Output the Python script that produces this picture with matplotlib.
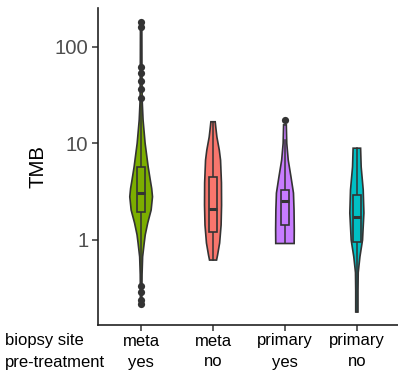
import numpy as np
import matplotlib
matplotlib.use("Agg")
import matplotlib.pyplot as plt
from matplotlib.transforms import blended_transform_factory

plt.rcParams['font.family'] = ['Liberation Sans', 'DejaVu Sans']

# groups (biopsy site / pre-treatment)
sites = ['meta', 'meta', 'primary', 'primary']
pretreat = ['yes', 'no', 'yes', 'no']
fills = ['#7CAE00', '#F8766D', '#C77CFF', '#00BFC4']

# violin outlines: TMB level and relative density (1 = widest violin)
prof_levels = [
    [180, 72, 28, 17.4, 10, 5.7, 4.2, 3.4, 2.8, 2.04, 1.5, 1.13, 0.93, 0.67, 0.44, 0.22],
    [16.7, 14, 11.6, 8.5, 6.7, 3.9, 2.3, 1.43, 0.93, 0.70, 0.62],
    [15.5, 10, 6.7, 4.5, 3.06, 2.04, 1.27, 0.92],
    [8.9, 5.7, 3.3, 1.9, 1.0, 0.67, 0.46, 0.30, 0.18],
]
prof_dens = [
    [0.06, 0.07, 0.09, 0.17, 0.35, 0.62, 0.80, 0.93, 1.0, 0.88, 0.58, 0.36, 0.27, 0.13, 0.08, 0.06],
    [0.19, 0.26, 0.34, 0.55, 0.66, 0.74, 0.75, 0.71, 0.58, 0.40, 0.31],
    [0.12, 0.16, 0.29, 0.53, 0.75, 0.80, 0.82, 0.81],
    [0.33, 0.38, 0.56, 0.62, 0.50, 0.27, 0.12, 0.10, 0.10],
]

# box stats: lower whisker, q1, median, q3, upper whisker
box_stats = [
    [0.39, 1.96, 3.08, 5.7, 28],
    [0.62, 1.22, 2.09, 4.5, 16.7],
    [0.92, 1.43, 2.55, 3.29, 10.8],
    [0.18, 0.96, 1.74, 2.92, 8.9],
]
outliers = [
    [180, 160, 62, 53, 44, 36.5, 29.4, 0.334, 0.29, 0.24, 0.22],
    [],
    [17.4],
    [],
]

edge = '#333333'
max_half = 0.158
box_half = 0.052

fig = plt.figure(figsize=(3.98, 3.73), dpi=100)
ax = fig.add_axes([98 / 398, 48 / 373, 302 / 398, 317 / 373])
ax.set_yscale('log')

for i in range(4):
    x0 = i + 1
    lev = np.array(prof_levels[i])
    hw = np.array(prof_dens[i]) * max_half
    xs = np.concatenate([x0 - hw, (x0 + hw)[::-1]])
    ys = np.concatenate([lev, lev[::-1]])
    ax.fill(xs, ys, facecolor=fills[i], edgecolor=edge, linewidth=1.2, zorder=2)

    lo, q1, med, q3, hi = box_stats[i]
    ax.plot([x0, x0], [q3, hi], color=edge, lw=1.1, zorder=3)
    ax.plot([x0, x0], [lo, q1], color=edge, lw=1.1, zorder=3)
    ax.fill([x0 - box_half, x0 + box_half, x0 + box_half, x0 - box_half],
            [q1, q1, q3, q3], facecolor=fills[i], edgecolor=edge, lw=1.2, zorder=3)
    ax.plot([x0 - box_half, x0 + box_half], [med, med], color=edge, lw=2.2,
            solid_capstyle='butt', zorder=4)
    if outliers[i]:
        ax.plot([x0] * len(outliers[i]), outliers[i], 'o', color=edge,
                markersize=5.2, markeredgewidth=0, zorder=5)

ax.set_xlim(0.4, 4.6)
ax.set_ylim(10 ** -0.879, 10 ** 2.399)
ax.set_yticks([1, 10, 100])
ax.set_yticklabels(['1', '10', '100'])
ax.yaxis.set_minor_locator(matplotlib.ticker.NullLocator())
ax.set_xticks([1, 2, 3, 4])
ax.set_xticklabels([])
ax.tick_params(axis='both', length=4, width=1.1, color=edge,
               labelsize=14.7, labelcolor='#4D4D4D', pad=3)
ax.set_ylabel('TMB', fontsize=14.7, labelpad=5)

for side in ['top', 'right']:
    ax.spines[side].set_visible(False)
for side in ['left', 'bottom']:
    ax.spines[side].set_linewidth(1.2)
    ax.spines[side].set_color('#222222')

# two-row category labels under the axis
tr = blended_transform_factory(ax.transData, fig.transFigure)
row1 = 1 - 341 / 373
row2 = 1 - 362 / 373
fig.text(5 / 398, row1, 'biopsy site', fontsize=12, va='center', ha='left')
fig.text(5 / 398, row2, 'pre-treatment', fontsize=12, va='center', ha='left')
for i in range(4):
    ax.text(i + 1, row1, sites[i], transform=tr, fontsize=12, ha='center', va='center')
    ax.text(i + 1, row2, pretreat[i], transform=tr, fontsize=12, ha='center', va='center')

fig.savefig('out.png', dpi=100)
